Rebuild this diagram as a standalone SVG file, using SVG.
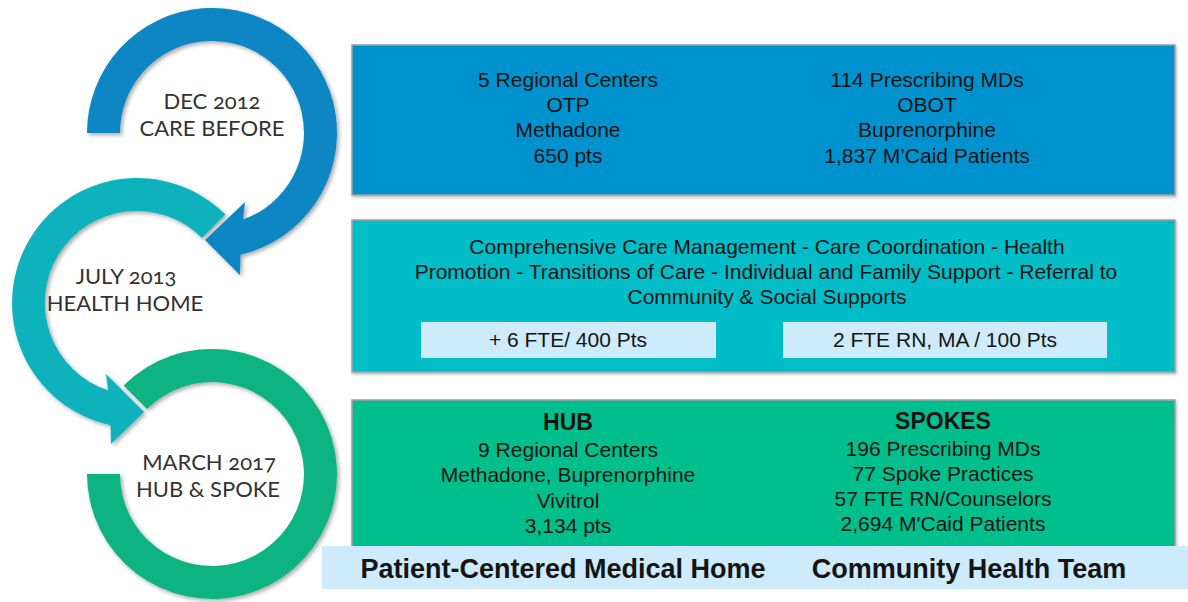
<svg xmlns="http://www.w3.org/2000/svg" width="1188" height="602" viewBox="0 0 1188 602">
  <defs>
    <filter id="shadow" x="-10%" y="-10%" width="130%" height="130%">
      <feDropShadow dx="2" dy="2" stdDeviation="2" flood-color="#000" flood-opacity="0.35"/>
    </filter>
    <filter id="boxshadow" x="-5%" y="-5%" width="110%" height="115%">
      <feDropShadow dx="1" dy="1.5" stdDeviation="1.5" flood-color="#000" flood-opacity="0.3"/>
    </filter>
  </defs>
  <style>
    .stage { font-family: Lato, "Open Sans", "Liberation Sans", sans-serif; font-size: 22px; fill: #333333; text-anchor: middle; font-variant-numeric: oldstyle-nums; font-feature-settings: "onum" 1; }
    .txt { font-family: "Liberation Sans", Arial, sans-serif; font-size: 21px; fill: #141414; text-anchor: middle; }
    .head { font-family: "Liberation Sans", Arial, sans-serif; font-size: 23px; font-weight: bold; fill: #141414; text-anchor: middle; }
    .bar { font-family: "Liberation Sans", Arial, sans-serif; font-size: 27px; font-weight: bold; fill: #141414; text-anchor: middle; }
    .box { stroke: #9aa3a8; stroke-width: 1.5; filter: url(#boxshadow); }
    .sub { fill: #cdebfb; }
  </style>

  <rect width="1188" height="602" fill="#ffffff"/>

  <!-- ring arrows (connectors) -->
  <g id="connectors">
    <path id="ring-green" filter="url(#shadow)" fill="#0bb381"
          d="M 120,474 L 87,474 A 125,125 0 1,0 123.6,385.6 L 147,409 A 92,92 0 1,1 120,474 Z"/>
    <path id="ring-teal" filter="url(#shadow)" fill="#0ab2bd"
          d="M 225.4,214.6 A 125,125 0 1,0 110.5,425.2 L 111,444 L 144,412 L 106,374 L 108,390.3 A 92,92 0 1,1 202,238 Z"/>
    <path id="ring-blue" filter="url(#shadow)" fill="#0a86c3"
          d="M 120,133 L 87,133 A 125,125 0 1,1 240.5,254.7 L 240,275 L 205,240 L 245,202 L 243,219.6 A 92,92 0 1,0 120,133 Z"/>
  </g>

  <g id="stage-dec2012">
    <text class="stage" x="212" y="109">DEC 2012</text>
    <text class="stage" x="212" y="136">CARE BEFORE</text>
  </g>
  <g id="stage-jul2013">
    <text class="stage" x="126" y="284">JULY 2013</text>
    <text class="stage" x="125" y="311">HEALTH HOME</text>
  </g>
  <g id="stage-mar2017">
    <text class="stage" x="209" y="470">MARCH 2017</text>
    <text class="stage" x="208" y="497">HUB &amp; SPOKE</text>
  </g>

  <g id="box-care-before">
    <rect class="box" x="352" y="45" width="823" height="150" fill="#0592ce"/>
    <text class="txt" x="568" y="87">5 Regional Centers</text>
    <text class="txt" x="568" y="112">OTP</text>
    <text class="txt" x="568" y="137">Methadone</text>
    <text class="txt" x="568" y="163">650 pts</text>
    <text class="txt" x="927" y="87">114 Prescribing MDs</text>
    <text class="txt" x="927" y="112">OBOT</text>
    <text class="txt" x="927" y="137">Buprenorphine</text>
    <text class="txt" x="927" y="163">1,837 M’Caid Patients</text>
  </g>

  <g id="box-health-home">
    <rect class="box" x="352" y="220" width="823" height="152" fill="#00bdc8"/>
    <text class="txt" x="767" y="254">Comprehensive Care Management - Care Coordination - Health</text>
    <text class="txt" x="766" y="279">Promotion - Transitions of Care - Individual and Family Support - Referral to</text>
    <text class="txt" x="767" y="304">Community &amp; Social Supports</text>
    <rect class="sub" x="421" y="322" width="295" height="36"/>
    <text class="txt" x="568" y="347">+ 6 FTE/ 400 Pts</text>
    <rect class="sub" x="783" y="322" width="324" height="36"/>
    <text class="txt" x="945" y="347">2 FTE RN, MA / 100 Pts</text>
  </g>

  <g id="box-hub-spoke">
    <rect class="box" x="352" y="400" width="823" height="150" fill="#05bf8c"/>
    <text class="head" x="568" y="430">HUB</text>
    <text class="txt" x="568" y="457">9 Regional Centers</text>
    <text class="txt" x="568" y="482">Methadone, Buprenorphine</text>
    <text class="txt" x="568" y="508">Vivitrol</text>
    <text class="txt" x="568" y="533">3,134 pts</text>
    <text class="head" x="943" y="429">SPOKES</text>
    <text class="txt" x="943" y="456">196 Prescribing MDs</text>
    <text class="txt" x="943" y="481">77 Spoke Practices</text>
    <text class="txt" x="943" y="506">57 FTE RN/Counselors</text>
    <text class="txt" x="943" y="531">2,694 M'Caid Patients</text>
  </g>

  <g id="bar-bottom">
    <rect x="322" y="546" width="866" height="43" fill="#cdebfb"/>
    <text class="bar" x="563" y="578">Patient-Centered Medical Home</text>
    <text class="bar" x="969" y="578">Community Health Team</text>
  </g>
</svg>
